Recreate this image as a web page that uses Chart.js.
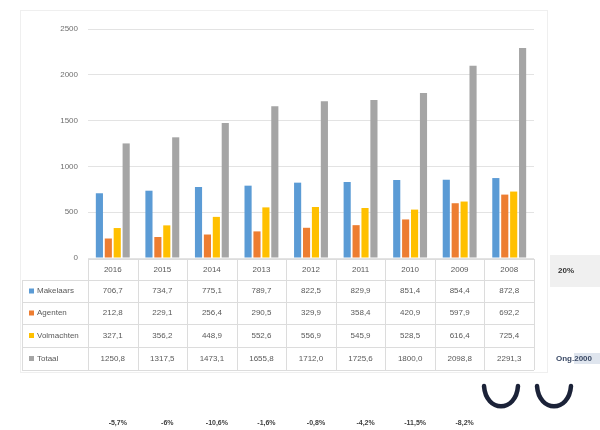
<!DOCTYPE html>
<html>
<head>
<meta charset="utf-8">
<script src="https://cdn.jsdelivr.net/npm/chart.js@4/dist/chart.umd.min.js"></script>
<style>
  html, body { margin: 0; padding: 0; background: #fff; }
  #wrap { width: 600px; height: 430px; position: relative; }
</style>
</head>
<body>
<div id="wrap"><canvas id="c" width="600" height="430"></canvas></div>
<script>
// Years shown in the data table header
const years = ['2016', '2015', '2014', '2013', '2012', '2011', '2010', '2009', '2008'];

// Series values per year
const makelaars  = [706.7, 734.7, 775.1, 789.7, 822.5, 829.9, 851.4, 854.4, 872.8];
const agenten    = [212.8, 229.1, 256.4, 290.5, 329.9, 358.4, 420.9, 597.9, 692.2];
const volmachten = [327.1, 356.2, 448.9, 552.6, 556.9, 545.9, 528.5, 616.4, 725.4];
const totaal     = [1250.8, 1317.5, 1473.1, 1655.8, 1712.0, 1725.6, 1800.0, 2098.8, 2291.3];

const seriesNames = ['Makelaars', 'Agenten', 'Volmachten', 'Totaal'];
const seriesColors = ['#5B9BD5', '#ED7D31', '#FFC000', '#A5A5A5'];

// Change labels printed underneath the table
const changeLabels = ['-5,7%', '-6%', '-10,6%', '-1,6%', '-0,8%', '-4,2%', '-11,5%', '-8,2%'];

const yTicks = [0, 500, 1000, 1500, 2000, 2500];

const seriesData = [makelaars, agenten, volmachten, totaal];
const fmt = v => v.toFixed(1).replace('.', ',');

const FONT = '"Liberation Sans", "DejaVu Sans", sans-serif';

// Data table, side notes and markers drawn under the plot
const tablePlugin = {
  id: 'dataTable',
  beforeDraw(chart) {
    const ctx = chart.ctx;
    ctx.save();
    ctx.fillStyle = '#ffffff';
    ctx.fillRect(0, 0, chart.width, chart.height);
    // chart frame
    ctx.strokeStyle = '#efefef';
    ctx.lineWidth = 1;
    ctx.strokeRect(20.5, 10.5, 527, 362);
    ctx.restore();
  },
  afterDraw(chart) {
    const ctx = chart.ctx;
    const xs = chart.scales.x;
    const area = chart.chartArea;
    const colW = (area.right - area.left) / years.length;
    const tableLeft = 22;
    const rowTop = area.bottom + 1;
    const rows = [rowTop, 280, 302, 324, 347, 370];

    ctx.save();
    ctx.strokeStyle = '#dcdcdc';
    ctx.lineWidth = 1;
    // horizontal rules
    rows.forEach((y, i) => {
      ctx.beginPath();
      ctx.moveTo(i === 0 ? area.left : tableLeft, Math.round(y) + 0.5);
      ctx.lineTo(area.right, Math.round(y) + 0.5);
      ctx.stroke();
    });
    // vertical rules
    for (let i = 0; i <= years.length; i++) {
      const x = Math.round(area.left + i * colW) + 0.5;
      ctx.beginPath();
      ctx.moveTo(x, rows[0]);
      ctx.lineTo(x, rows[5]);
      ctx.stroke();
    }
    ctx.beginPath();
    ctx.moveTo(tableLeft + 0.5, rows[1]);
    ctx.lineTo(tableLeft + 0.5, rows[5]);
    ctx.stroke();

    ctx.fillStyle = '#595959';
    ctx.font = '8px ' + FONT;
    ctx.textAlign = 'center';
    ctx.textBaseline = 'middle';
    years.forEach((yr, i) => {
      ctx.fillText(yr, xs.getPixelForValue(i), (rows[0] + rows[1]) / 2);
    });
    seriesData.forEach((arr, r) => {
      const cy = (rows[r + 1] + rows[r + 2]) / 2;
      arr.forEach((v, i) => {
        ctx.fillText(fmt(v), xs.getPixelForValue(i), cy);
      });
      // legend key + name
      ctx.fillStyle = seriesColors[r];
      ctx.fillRect(29, cy - 2.5, 5, 5);
      ctx.fillStyle = '#595959';
      ctx.textAlign = 'left';
      ctx.fillText(seriesNames[r], 37, cy);
      ctx.textAlign = 'center';
    });

    // side note boxes
    ctx.fillStyle = '#f0f0f0';
    ctx.fillRect(550, 255, 50, 32);
    ctx.fillStyle = '#333333';
    ctx.font = 'bold 8px ' + FONT;
    ctx.textAlign = 'left';
    ctx.fillText('20%', 558, 271);

    ctx.fillStyle = '#dfe5ee';
    ctx.fillRect(574, 353, 26, 11);
    ctx.fillStyle = '#3b4a66';
    ctx.font = 'bold 8px ' + FONT;
    ctx.fillText('Ong.2000', 556, 359);

    // change labels under each year
    ctx.fillStyle = '#404040';
    ctx.font = 'bold 7px ' + FONT;
    ctx.textAlign = 'center';
    changeLabels.forEach((t, i) => {
      ctx.fillText(t, xs.getPixelForValue(i) + 5, 423);
    });

    // two curved markers
    ctx.strokeStyle = '#1b2238';
    ctx.lineWidth = 4.5;
    ctx.lineCap = 'round';
    [[484, 518], [537, 571]].forEach(([a, b]) => {
      ctx.beginPath();
      ctx.moveTo(a, 386);
      ctx.bezierCurveTo(a + 2, 413, b - 2, 413, b, 386);
      ctx.stroke();
    });
    ctx.restore();
  }
};

new Chart(document.getElementById('c'), {
  type: 'bar',
  data: {
    labels: years,
    datasets: seriesData.map((d, i) => ({
      label: seriesNames[i],
      data: d,
      backgroundColor: seriesColors[i],
      borderWidth: 0,
      barPercentage: 0.8,
      categoryPercentage: 0.72
    }))
  },
  options: {
    responsive: false,
    animation: false,
    events: [],
    layout: { padding: { left: 0, right: 66, top: 29, bottom: 172 } },
    plugins: { legend: { display: false }, tooltip: { enabled: false } },
    scales: {
      x: { display: false },
      y: {
        min: 0,
        max: 2500,
        afterBuildTicks: s => { s.ticks = yTicks.map(v => ({ value: v })); },
        afterFit: s => { s.width = 88; },
        ticks: {
          color: '#6f6f6f',
          font: { size: 8, family: FONT },
          padding: 10,
          callback: v => String(v)
        },
        grid: { color: '#e3e3e3', drawTicks: false },
        border: { display: false }
      }
    }
  },
  plugins: [tablePlugin]
});
</script>
</body>
</html>
